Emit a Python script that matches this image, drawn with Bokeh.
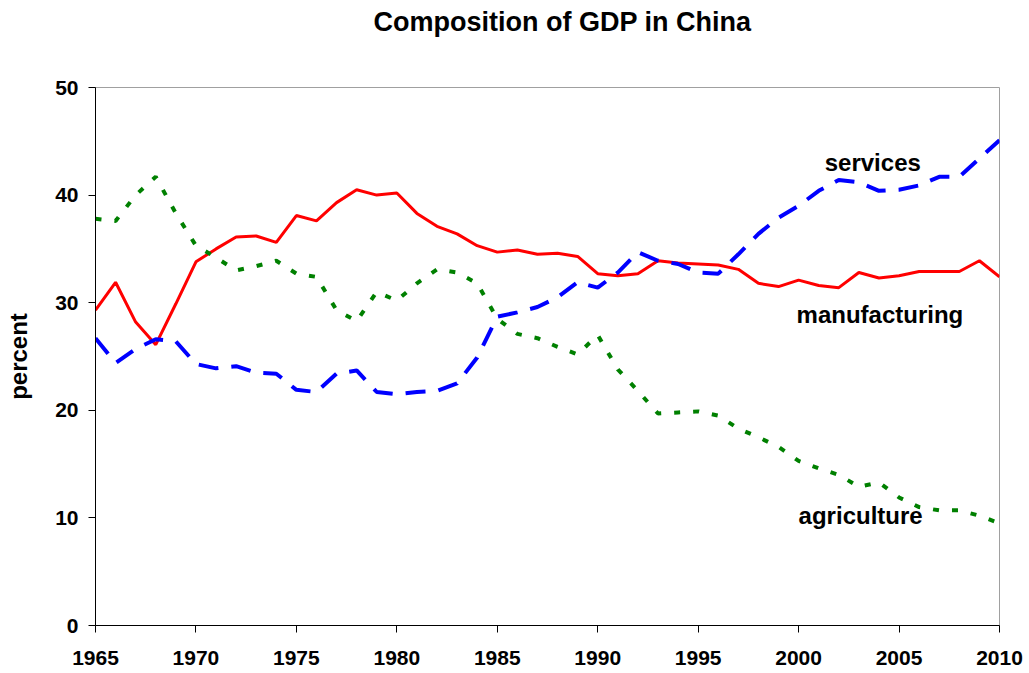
from bokeh.plotting import figure
from bokeh.models import Range1d, FixedTicker, Title, LinearAxis, ColumnDataSource
from bokeh.core.properties import value
from bokeh.embed import file_html
from bokeh.resources import INLINE

# ---- data ----
years = list(range(1965, 2011))
manufacturing = [29.3, 31.9, 28.2, 26.1, 29.9, 33.8, 35.0, 36.1, 36.2, 35.6,
                 38.1, 37.6, 39.3, 40.5, 40.0, 40.2, 38.3, 37.1, 36.4, 35.3,
                 34.7, 34.9, 34.5, 34.6, 34.3, 32.7, 32.5, 32.7, 33.9, 33.7,
                 33.6, 33.5, 33.1, 31.8, 31.5, 32.1, 31.6, 31.4, 32.8, 32.3,
                 32.5, 32.9, 32.9, 32.9, 33.9, 32.4]
services = [26.7, 24.4, 25.7, 26.6, 26.4, 24.3, 23.9, 24.1, 23.5, 23.4,
            21.9, 21.7, 23.4, 23.7, 21.7, 21.5, 21.7, 21.8, 22.5, 24.9,
            28.7, 29.1, 29.6, 30.5, 31.9, 31.4, 32.8, 34.7, 33.9, 33.6,
            32.8, 32.7, 34.5, 36.4, 37.9, 39.0, 40.4, 41.4, 41.2, 40.4,
            40.5, 40.9, 41.7, 41.7, 43.4, 45.1]
agriculture = [37.8, 37.6, 40.0, 41.7, 38.3, 35.3, 34.2, 33.0, 33.4, 33.9,
               32.7, 32.4, 29.3, 28.3, 31.0, 30.2, 31.8, 33.1, 32.8, 31.8,
               28.5, 27.1, 26.7, 25.9, 25.2, 27.0, 23.8, 21.8, 19.7, 19.8,
               19.9, 19.5, 18.3, 17.5, 16.6, 15.3, 14.6, 14.0, 12.9, 13.3,
               11.9, 11.0, 10.7, 10.7, 10.2, 9.5]
series_labels = ["services", "manufacturing", "agriculture"]
x_ticks = [1965, 1970, 1975, 1980, 1985, 1990, 1995, 2000, 2005, 2010]
y_ticks = [0, 10, 20, 30, 40, 50]
title_text = "Composition of GDP in  China"
y_label = "percent"

FONT = "Liberation Sans"

p = figure(width=1029, height=673, output_backend="svg", toolbar_location=None,
           x_range=Range1d(1965, 2010), y_range=Range1d(0, 50),
           min_border_left=95, min_border_right=30, min_border_top=87,
           min_border_bottom=48)
p.title = None
xax = p.below[0]
yax = p.left[0]

# invisible spacer axis above the frame, so that the title sits near the top
spacer = LinearAxis(ticker=FixedTicker(ticks=[1987.5]), axis_line_color=None,
                    major_tick_line_color="white", major_tick_line_width=0.01,
                    minor_tick_line_color=None,
                    major_tick_out=51, major_tick_in=0, minor_tick_out=0,
                    major_label_standoff=0, major_label_text_color=None)
p.add_layout(spacer, "above")

t = Title(text=title_text, align="left", offset=278, standoff=0,
          text_font=FONT, text_font_size="27px", text_font_style="bold",
          text_color="black")
p.add_layout(t, "above")

p.background_fill_color = "white"
p.border_fill_color = "white"
p.outline_line_color = "#A0A0A0"
p.outline_line_width = 1
p.xgrid.visible = False
p.ygrid.visible = False

for ax in (xax, yax):
    ax.axis_line_color = "black"
    ax.axis_line_width = 1
    ax.major_tick_line_color = "black"
    ax.major_tick_out = 7
    ax.major_tick_in = 0
    ax.minor_tick_line_color = None
    ax.major_label_text_font = FONT
    ax.major_label_text_font_style = "bold"
    ax.major_label_text_font_size = "21px"
    ax.major_label_text_color = "black"

xax.ticker = FixedTicker(ticks=x_ticks)
yax.ticker = FixedTicker(ticks=y_ticks)
xax.major_label_standoff = 18
yax.major_label_standoff = 10
yax.axis_label = y_label
yax.axis_label_text_font = FONT
yax.axis_label_text_font_style = "bold"
yax.axis_label_text_font_size = "24px"
yax.axis_label_text_color = "black"
yax.axis_label_standoff = 20

src = ColumnDataSource(dict(year=years, man=manufacturing, ser=services, agr=agriculture))
p.line("year", "man", source=src, line_color="#FF0000", line_width=3)
p.line("year", "ser", source=src, line_color="#0000FF", line_width=4,
       line_dash="20 13")
p.line("year", "agr", source=src, line_color="#008000", line_width=4,
       line_dash="6 13")

lab_src = ColumnDataSource(dict(x=[2001.3, 1999.9, 2000.0], y=[43.0, 28.9, 10.2],
                                text=series_labels))
p.text("x", "y", text="text", source=lab_src, text_font=value(FONT),
       text_font_style="bold", text_font_size="24px", text_baseline="middle",
       text_align="left", text_color="black")

open("out.html", "w").write(file_html(p, INLINE))
